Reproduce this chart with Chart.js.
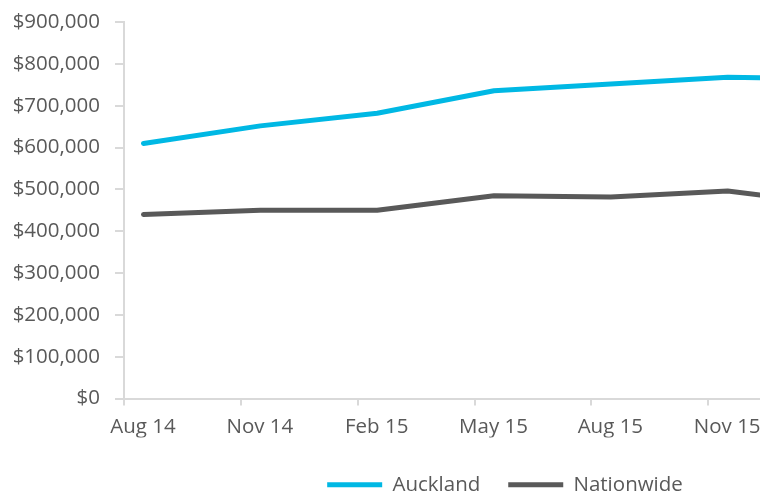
<!DOCTYPE html>
<html>
<head>
<meta charset="utf-8">
<script src="https://cdn.jsdelivr.net/npm/chart.js@4/dist/chart.umd.min.js"></script>
<style>
  html, body { margin: 0; padding: 0; background: #fff; overflow: hidden; }
  #wrap { width: 760px; height: 496px; }
</style>
</head>
<body>
<div id="wrap"><canvas id="c" width="760" height="496"></canvas></div>
<script>
// ── DATA ──────────────────────────────────────────────────────────────────────
// quarterly points; the axis runs in months, one label every 3 months
const quarters   = ['Aug 14', 'Nov 14', 'Feb 15', 'May 15', 'Aug 15', 'Nov 15', 'Feb 16'];
const auckland   = [610000, 652000, 682000, 736000, 752000, 768000, 765000];
const nationwide = [440000, 450000, 450000, 485000, 482000, 496000, 462000];
const xLabelled  = ['Aug 14', 'Nov 14', 'Feb 15', 'May 15', 'Aug 15', 'Nov 15'];
const yTicks     = [0, 100000, 200000, 300000, 400000, 500000, 600000, 700000, 800000, 900000];

const TEXT = '#595959';
const AXIS = '#D9D9D9';
const FONT = { family: 'Open Sans', size: 20.5 };

// month index -> point sits in the middle of its month
const toPoints = vals => vals.map((v, i) => ({ x: i * 3 + 0.5, y: v }));

// ── LEGEND NUDGE (legend sits right of centre in the original) ───────────────
const nudgeLegend = {
  id: 'nudgeLegend',
  afterUpdate(chart) {
    const lg = chart.legend;
    lg.left += 125; lg.right += 125;
    lg.top += 9;    lg.bottom += 9;
  }
};

new Chart(document.getElementById('c'), {
  type: 'line',
  data: {
    datasets: [
      { label: 'Auckland',   data: toPoints(auckland),   borderColor: '#00B8E4', backgroundColor: '#00B8E4', borderWidth: 5 },
      { label: 'Nationwide', data: toPoints(nationwide), borderColor: TEXT,      backgroundColor: TEXT,      borderWidth: 5 }
    ]
  },
  options: {
    responsive: false,
    animation: false,
    layout: { padding: { top: 22, right: 0, left: 0, bottom: 0 } },
    elements: {
      line: { tension: 0, borderCapStyle: 'round', borderJoinStyle: 'round' },
      point: { radius: 0 }
    },
    scales: {
      x: {
        type: 'linear', min: 0, max: 16.33,
        afterFit: s => { s.height = 39; },
        afterBuildTicks: s => { s.ticks = xLabelled.map((_, i) => ({ value: i * 3 })); },
        border: { color: AXIS, width: 2 },
        grid: { drawOnChartArea: false, color: AXIS, lineWidth: 2, tickLength: 7 },
        ticks: {
          autoSkip: false, maxRotation: 0, labelOffset: 19, padding: 9,
          color: TEXT, font: FONT,
          callback: v => xLabelled[v / 3]
        }
      },
      y: {
        min: 0, max: 900000,
        afterFit: s => { s.width = 124; },
        afterBuildTicks: s => { s.ticks = yTicks.map(v => ({ value: v })); },
        border: { color: AXIS, width: 2 },
        grid: { drawOnChartArea: false, color: AXIS, lineWidth: 2, tickLength: 9 },
        ticks: {
          padding: 15, color: TEXT, font: { ...FONT, lineHeight: 0.7 },
          callback: v => '$' + v.toLocaleString('en-US')
        }
      }
    },
    plugins: {
      tooltip: { enabled: false },
      legend: {
        position: 'bottom',
        labels: {
          usePointStyle: true, pointStyle: 'line', pointStyleWidth: 55,
          padding: 28, color: TEXT, font: FONT
        }
      }
    }
  },
  plugins: [nudgeLegend]
});
</script>
</body>
</html>
